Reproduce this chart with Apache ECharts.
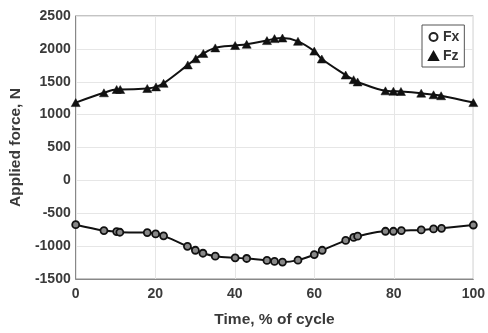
<!DOCTYPE html>
<html>
<head>
<meta charset="utf-8">
<script src="https://cdn.jsdelivr.net/npm/echarts@6/dist/echarts.min.js"></script>
<style>
	html, body { margin: 0; padding: 0; background: #fff; }
	#chart { width: 488px; height: 333px; }
</style>
</head>
<body>
<div id="chart"></div>
<script>
/* Data */
const timeFz = [0, 7.1, 10.3, 11.2, 18, 20.2, 22.1, 28.2, 30.2, 32.1, 35.1, 40.1, 43, 48.1, 50, 52, 55.9, 60, 61.9, 67.9, 69.9, 70.9, 77.9, 79.9, 81.8, 86.9, 90, 91.9, 100];
const valuesFz = [1183, 1332, 1382, 1382, 1397, 1422, 1476, 1756, 1850, 1931, 2015, 2051, 2070, 2126, 2156, 2165, 2115, 1966, 1846, 1602, 1531, 1497, 1362, 1356, 1352, 1326, 1302, 1287, 1183];

const timeFx = [0, 7.1, 10.3, 11.1, 18, 20.1, 22.1, 28.1, 30.1, 32, 35.1, 40.1, 43, 48.1, 50, 52, 55.9, 60, 62, 67.9, 69.9, 70.9, 77.9, 79.9, 81.9, 86.9, 90, 92, 100];
const valuesFx = [-674, -764, -779, -789, -794, -814, -844, -1003, -1063, -1108, -1153, -1178, -1188, -1218, -1233, -1243, -1213, -1128, -1063, -913, -868, -849, -774, -774, -764, -754, -739, -729, -679];

const pairs = (xs, ys) => xs.map((x, i) => [x, ys[i]]);

const labelStyle = {
	fontFamily: "Liberation Sans",
	fontWeight: "bold",
	fontSize: 14,
	color: "#3a3a3a",
	formatter: (v) => String(v),
};

const titleStyle = {
	fontFamily: "Liberation Sans",
	fontWeight: "bold",
	fontSize: 15.5,
	color: "#3a3a3a",
};

const gridLine = {
	show: true,
	lineStyle: { color: "#e6e6e6", width: 1 },
};

const option = {
	animation: false,
	grid: { left: 70, right: 11, top: 16, bottom: 50 },
	legend: {
		left: 422,
		top: 25,
		orient: "vertical",
		backgroundColor: "#fff",
		borderColor: "#555",
		borderWidth: 1,
		borderRadius: 0,
		padding: [5, 5, 4, 6],
		itemGap: 5,
		itemWidth: 9,
		itemHeight: 8,
		textStyle: { fontFamily: "Liberation Sans", fontWeight: "bold", fontSize: 14, color: "#333" },
		data: [
			{ name: "Fx", icon: "circle", itemStyle: { color: "#fff", borderColor: "#222", borderWidth: 2 } },
			{ name: "Fz", icon: "triangle", itemStyle: { color: "#111" } },
		],
	},
	xAxis: {
		type: "value",
		min: 0,
		max: 100,
		interval: 20,
		name: "Time, % of cycle",
		nameLocation: "middle",
		nameGap: 33,
		nameTextStyle: titleStyle,
		axisLine: { show: true, onZero: false, lineStyle: { color: "#888", width: 1 } },
		axisTick: { show: false },
		axisLabel: Object.assign({ margin: 8 }, labelStyle),
		splitLine: gridLine,
	},
	yAxis: {
		type: "value",
		min: -1500,
		max: 2500,
		interval: 500,
		name: "Applied force, N",
		nameLocation: "middle",
		nameGap: 50,
		nameTextStyle: titleStyle,
		axisLine: { show: true, onZero: false, lineStyle: { color: "#888", width: 1 } },
		axisTick: { show: false },
		axisLabel: Object.assign({ margin: 5 }, labelStyle),
		splitLine: gridLine,
	},
	graphic: [],
	series: [
		{
			name: "Fx",
			type: "line",
			smooth: 0.35,
			data: pairs(timeFx, valuesFx),
			symbol: "circle",
			symbolSize: 7,
			lineStyle: { color: "#111", width: 2 },
			itemStyle: { color: "#888", borderColor: "#111", borderWidth: 1.8 },
		},
		{
			name: "Fz",
			type: "line",
			smooth: 0.35,
			data: pairs(timeFz, valuesFz),
			symbol: "triangle",
			symbolSize: [9, 8],
			lineStyle: { color: "#111", width: 2 },
			itemStyle: { color: "#111", borderColor: "#111", borderWidth: 0.5 },
		},
	],
};

const myChart = echarts.init(document.getElementById("chart"));
myChart.setOption(option);

/* Box around the plot area, as in the original figure */
const rect = myChart.getModel().getComponent("grid").coordinateSystem.getRect();
myChart.setOption({
	graphic: [{
		type: "rect",
		silent: true,
		z: 0,
		shape: { x: rect.x, y: rect.y, width: rect.width, height: rect.height },
		style: { fill: "none", stroke: "#888", lineWidth: 1 },
	}],
});
</script>
</body>
</html>
